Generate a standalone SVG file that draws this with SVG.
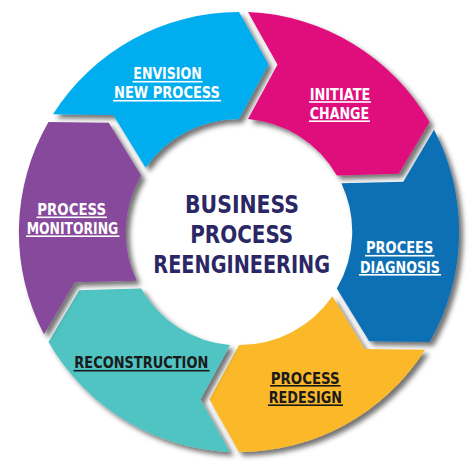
<svg xmlns="http://www.w3.org/2000/svg" width="476" height="476" viewBox="0 0 476 476">
<defs>
<filter id="sh" x="-10%" y="-10%" width="130%" height="130%">
<feDropShadow dx="4" dy="4" stdDeviation="2.5" flood-color="#000" flood-opacity="0.55"/>
</filter>
<style>
.seg{filter:url(#sh);}
.lbl{font-family:"DejaVu Sans Condensed","DejaVu Sans",sans-serif;font-weight:700;font-size:16px;text-anchor:middle;}
.w{fill:#ffffff;}
.k{fill:#1a1a1a;}
.ctr{font-family:"DejaVu Sans Condensed","DejaVu Sans",sans-serif;font-weight:700;font-size:24px;text-anchor:middle;fill:#2b2765;}
</style>
</defs>
<rect width="476" height="476" fill="#ffffff"/>
<g id="envision">
<path class="seg" fill="#00adee" d="M52.97,114.21 A220,220 0 0 1 239,12 L268.51,64.58 L239,119 A113,113 0 0 0 145.64,167.71 L113.28,114.93 Z"/>
<text class="lbl w" x="167.5" y="79.3" textLength="68.4" lengthAdjust="spacingAndGlyphs">ENVISION</text>
<rect class="w" x="132.5" y="80.9" width="70" height="1.6"/>
<text class="lbl w" x="167" y="98.3" textLength="106" lengthAdjust="spacingAndGlyphs">NEW PROCESS</text>
<rect class="w" x="113" y="99.9" width="108" height="1.6"/>
</g>
<g id="initiate">
<path class="seg" fill="#e0107b" d="M248,12 A220,220 0 0 1 429.53,122 L398.75,173.86 L336.86,175.5 A113,113 0 0 0 248,119 L277.51,64.58 Z"/>
<text class="lbl w" x="340" y="100" textLength="60.6" lengthAdjust="spacingAndGlyphs">INITIATE</text>
<rect class="w" x="309" y="101.2" width="62" height="1.6"/>
<text class="lbl w" x="339.4" y="119.3" textLength="59.3" lengthAdjust="spacingAndGlyphs">CHANGE</text>
<rect class="w" x="309" y="120.4" width="61" height="1.6"/>
</g>
<g id="diagnosis">
<path class="seg" fill="#0a6fb5" d="M434.03,129.79 A220,220 0 0 1 429.53,342 L369.22,341.28 L336.86,288.5 A113,113 0 0 0 341.36,183.29 L403.25,181.65 Z"/>
<text class="lbl w" x="399.7" y="253.3" textLength="67.3" lengthAdjust="spacingAndGlyphs">PROCEES</text>
<rect class="w" x="365" y="254.9" width="69.5" height="1.6"/>
<text class="lbl w" x="400" y="272.7" textLength="80" lengthAdjust="spacingAndGlyphs">DIAGNOSIS</text>
<rect class="w" x="359" y="274" width="82" height="1.6"/>
</g>
<g id="redesign">
<path class="seg" fill="#fbb92a" d="M425.03,349.79 A220,220 0 0 1 239,452 L209.49,399.42 L239,345 A113,113 0 0 0 332.36,296.29 L364.72,349.07 Z"/>
<text class="lbl k" x="305.2" y="383.7" textLength="69" lengthAdjust="spacingAndGlyphs">PROCESS</text>
<rect class="k" x="270" y="385" width="70.5" height="1.6"/>
<text class="lbl k" x="305.3" y="403" textLength="73.3" lengthAdjust="spacingAndGlyphs">REDESIGN</text>
<rect class="k" x="268" y="404.4" width="75" height="1.6"/>
</g>
<g id="reconstruction">
<path class="seg" fill="#50c4c3" d="M230,452 A220,220 0 0 1 48.47,342 L79.25,290.14 L141.14,288.5 A113,113 0 0 0 230,345 L200.49,399.42 Z"/>
<text class="lbl k" x="141.3" y="368.3" textLength="134" lengthAdjust="spacingAndGlyphs">RECONSTRUCTION</text>
<rect class="k" x="73.5" y="369.9" width="136" height="1.6"/>
</g>
<g id="monitoring">
<path class="seg" fill="#874a9b" d="M43.97,334.21 A220,220 0 0 1 48.47,122 L108.78,122.72 L141.14,175.5 A113,113 0 0 0 136.64,280.71 L74.75,282.35 Z"/>
<text class="lbl w" x="71.7" y="215" textLength="68.7" lengthAdjust="spacingAndGlyphs">PROCESS</text>
<rect class="w" x="36.5" y="216.5" width="70.5" height="1.6"/>
<text class="lbl w" x="72.5" y="234" textLength="91.6" lengthAdjust="spacingAndGlyphs">MONITORING</text>
<rect class="w" x="26" y="235.4" width="93.5" height="1.6"/>
</g>
<g id="center">
<text class="ctr" x="242" y="213.3" textLength="114" lengthAdjust="spacingAndGlyphs">BUSINESS</text>
<text class="ctr" x="241.7" y="243.3" textLength="103" lengthAdjust="spacingAndGlyphs">PROCESS</text>
<text class="ctr" x="241.7" y="272.7" textLength="176.7" lengthAdjust="spacingAndGlyphs">REENGINEERING</text>
</g>
<g id="connectors"></g>
</svg>
